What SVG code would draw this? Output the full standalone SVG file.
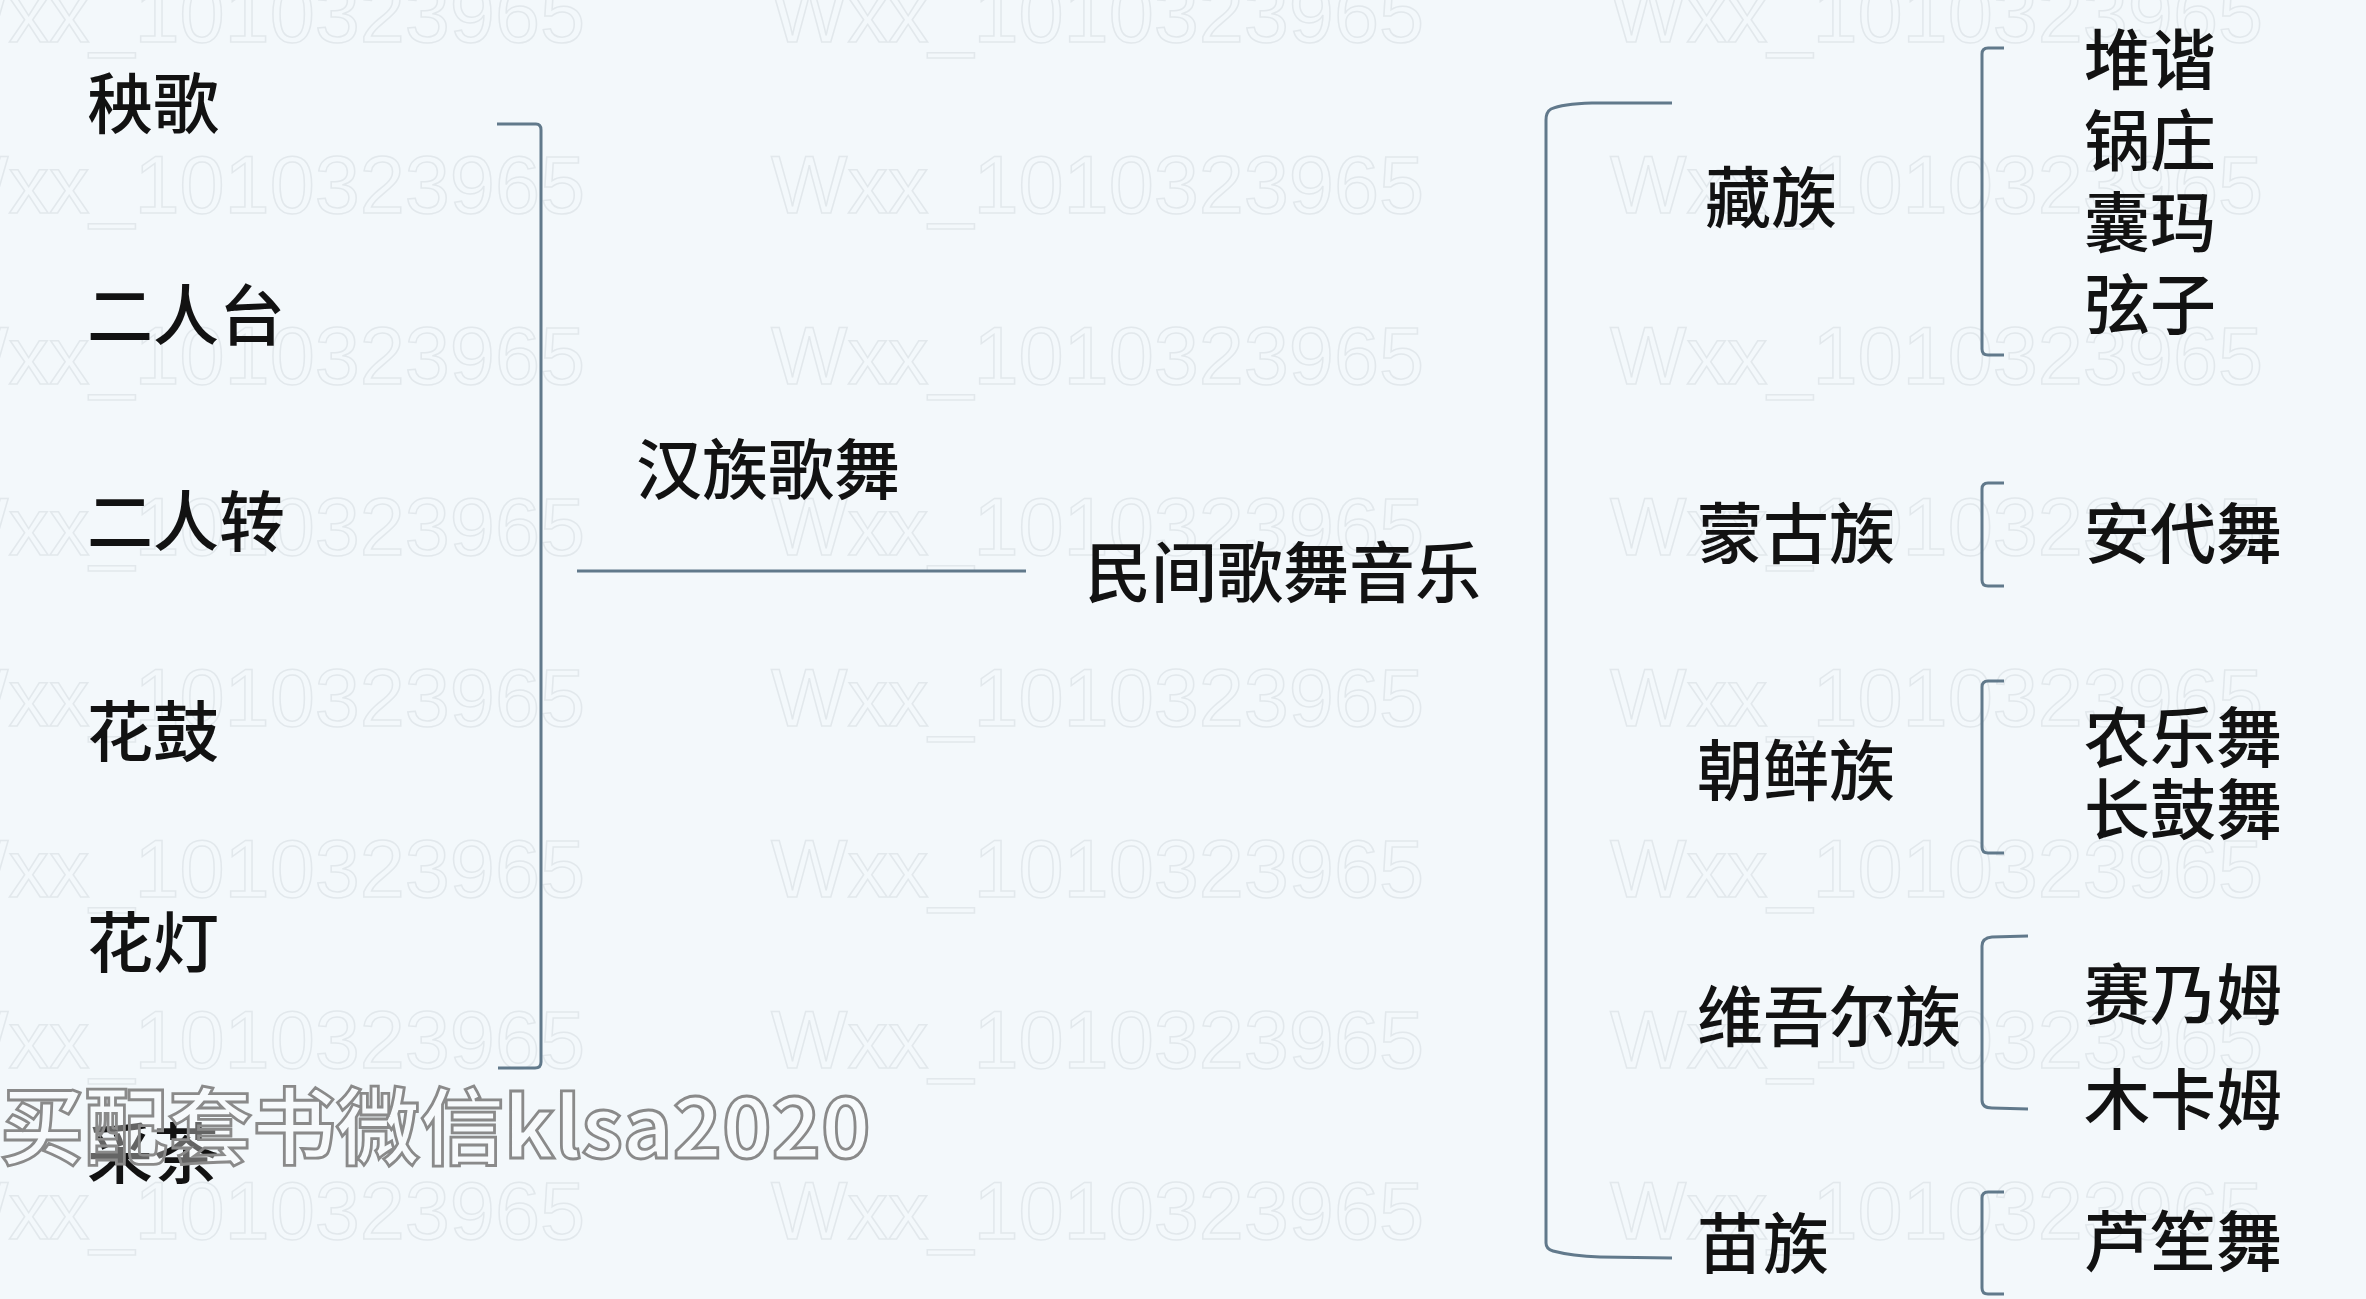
<svg xmlns="http://www.w3.org/2000/svg" width="2366" height="1299" viewBox="0 0 2366 1299">
<style>
.t{font-family:"Noto Sans CJK SC","Noto Sans",sans-serif;font-size:66px;font-weight:500;fill:#121212;}
.wm{font-family:"Liberation Sans",Arial,sans-serif;font-size:81px;fill:none;stroke:#e2e8ec;stroke-width:1.5;}
.ad{font-family:"Noto Sans CJK SC","Noto Sans",sans-serif;font-size:84px;font-weight:700;fill:#ffffff;fill-opacity:0.35;stroke:#8a8a8a;stroke-width:2.8;}
.c{fill:none;stroke:#61798b;stroke-width:3;stroke-linecap:butt;stroke-linejoin:round;}
</style>
<rect x="0" y="0" width="2366" height="1299" fill="#f3f8fb"/>
<g id="watermarks">
<text class="wm" x="-68" y="42">Wxx_1010323965</text><text class="wm" x="771" y="42">Wxx_1010323965</text><text class="wm" x="1610" y="42">Wxx_1010323965</text>
<text class="wm" x="-68" y="213">Wxx_1010323965</text><text class="wm" x="771" y="213">Wxx_1010323965</text><text class="wm" x="1610" y="213">Wxx_1010323965</text>
<text class="wm" x="-68" y="384">Wxx_1010323965</text><text class="wm" x="771" y="384">Wxx_1010323965</text><text class="wm" x="1610" y="384">Wxx_1010323965</text>
<text class="wm" x="-68" y="555">Wxx_1010323965</text><text class="wm" x="771" y="555">Wxx_1010323965</text><text class="wm" x="1610" y="555">Wxx_1010323965</text>
<text class="wm" x="-68" y="726">Wxx_1010323965</text><text class="wm" x="771" y="726">Wxx_1010323965</text><text class="wm" x="1610" y="726">Wxx_1010323965</text>
<text class="wm" x="-68" y="897">Wxx_1010323965</text><text class="wm" x="771" y="897">Wxx_1010323965</text><text class="wm" x="1610" y="897">Wxx_1010323965</text>
<text class="wm" x="-68" y="1068">Wxx_1010323965</text><text class="wm" x="771" y="1068">Wxx_1010323965</text><text class="wm" x="1610" y="1068">Wxx_1010323965</text>
<text class="wm" x="-68" y="1239">Wxx_1010323965</text><text class="wm" x="771" y="1239">Wxx_1010323965</text><text class="wm" x="1610" y="1239">Wxx_1010323965</text>
</g>
<g id="connectors">
<path class="c" d="M497,124 L536,124 Q541,124 541,130 L541,1062 Q541,1068 535,1068 L498,1068"/>
<path class="c" d="M577,571 L1026,571"/>
<path class="c" d="M1672,103 L1592,103 Q1562,104 1551,109 Q1546,112 1546,120 L1546,1243 Q1546,1249 1553,1251 Q1572,1256 1600,1257 L1672,1258"/>
<path class="c" d="M2004,48 L1988,48 Q1982,48 1982,54 L1982,349 Q1982,355 1988,355 L2004,355"/>
<path class="c" d="M2004,483 L1988,483 Q1982,483 1982,489 L1982,580 Q1982,586 1988,586 L2004,586"/>
<path class="c" d="M2004,681 L1988,681 Q1982,681 1982,687 L1982,847 Q1982,853 1988,853 L2004,853"/>
<path class="c" d="M2028,936 L1992,937 Q1982,938 1982,946 L1982,1100 Q1982,1108 1992,1108 L2028,1109"/>
<path class="c" d="M2004,1192 L1988,1192 Q1982,1192 1982,1198 L1982,1288 Q1982,1294 1988,1294 L2004,1294"/>
</g>
<g id="n-yangge"><text class="t" x="87" y="128">秧歌</text></g>
<g id="n-errentai"><text class="t" x="87" y="340">二人台</text></g>
<g id="n-errenzhuan"><text class="t" x="87" y="546">二人转</text></g>
<g id="n-huagu"><text class="t" x="87" y="756">花鼓</text></g>
<g id="n-huadeng"><text class="t" x="87" y="967">花灯</text></g>
<g id="n-caicha"><text class="t" x="87" y="1178">采茶</text></g>
<g id="n-hanzu"><text class="t" x="636" y="494">汉族歌舞</text></g>
<g id="n-root"><text class="t" x="1085" y="597">民间歌舞音乐</text></g>
<g id="n-zangzu"><text class="t" x="1705" y="222">藏族</text></g>
<g id="n-zang-items">
<text class="t" x="2084" y="84">堆谐</text>
<text class="t" x="2084" y="165">锅庄</text>
<text class="t" x="2084" y="247">囊玛</text>
<text class="t" x="2084" y="329">弦子</text>
</g>
<g id="n-menggu"><text class="t" x="1697" y="558">蒙古族</text></g>
<g id="n-andai"><text class="t" x="2084" y="558">安代舞</text></g>
<g id="n-chaoxian"><text class="t" x="1697" y="795">朝鲜族</text></g>
<g id="n-chaoxian-items">
<text class="t" x="2084" y="762">农乐舞</text>
<text class="t" x="2084" y="834">长鼓舞</text>
</g>
<g id="n-weiwuer"><text class="t" x="1697" y="1041">维吾尔族</text></g>
<g id="n-weiwuer-items">
<text class="t" x="2084" y="1019">赛乃姆</text>
<text class="t" x="2084" y="1124">木卡姆</text>
</g>
<g id="n-miao"><text class="t" x="1697" y="1268">苗族</text></g>
<g id="n-lusheng"><text class="t" x="2084" y="1266">芦笙舞</text></g>
<g id="overlay"><text class="ad" x="0" y="1158">买配套书微信klsa2020</text></g>
</svg>
